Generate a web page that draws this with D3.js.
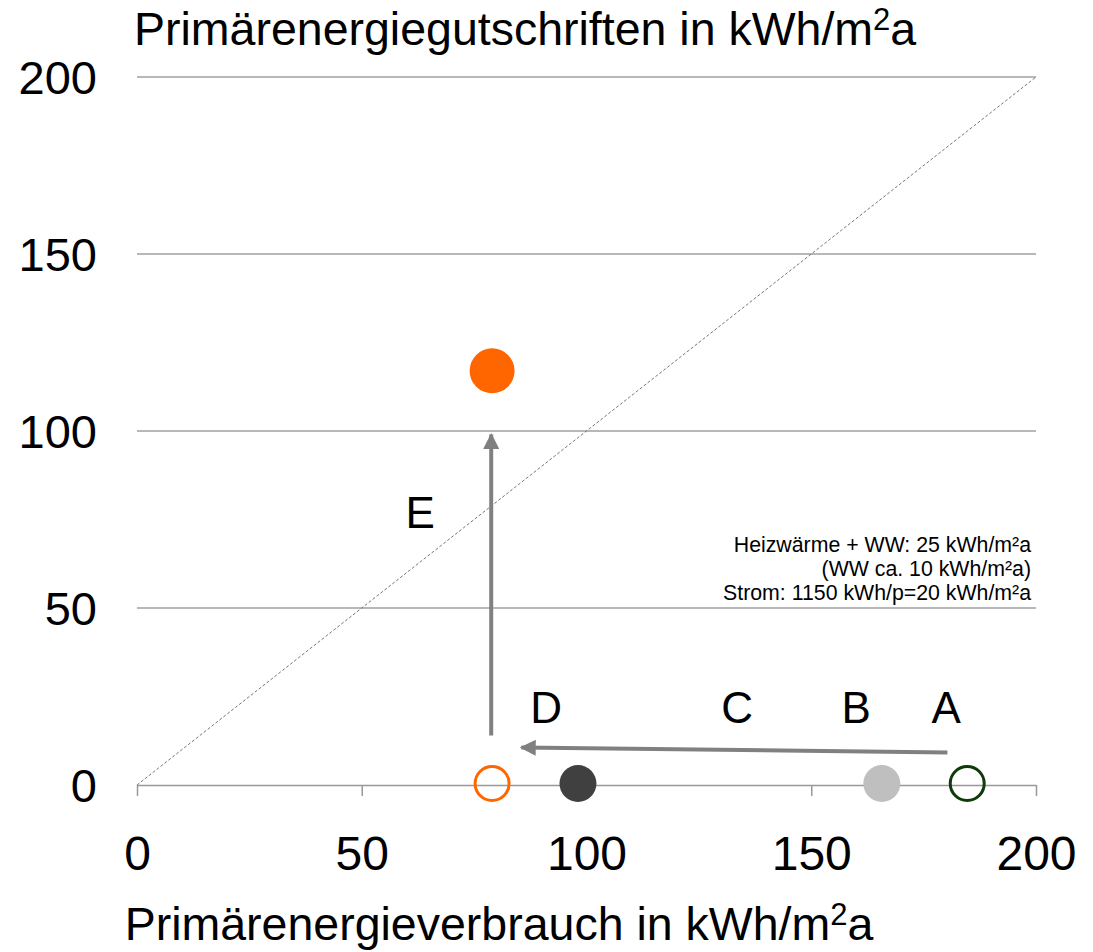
<!DOCTYPE html>
<html><head><meta charset="utf-8">
<script src="https://cdn.jsdelivr.net/npm/d3@7"></script>
<style>body{margin:0;background:#fff}</style>
</head><body>
<svg id="c" width="1093" height="952"></svg>
<script>
const xTicks = [0, 50, 100, 150, 200];
const yTicks = [0, 50, 100, 150, 200];
const gridValues = [50, 100, 150, 200];
const pointNames = ["A", "B", "C/D", "E0", "E"];
const pointX = [184.7, 165.7, 98.1, 79, 79];
const pointY = [0, 0, 0, 0, 117];
const pointFill = ["none", "#bfbfbf", "#404040", "none", "#ff6600"];
const pointStroke = ["#0f3b0a", "none", "none", "#ff6600", "none"];
const labelText = ["A", "B", "C", "D", "E"];
const labelX = [180, 160, 133.5, 91, 63];
const labelY = [22, 22, 22, 22, 77];
const arrows = [
  {x1: 180.3, y1: 9.2, x2: 85.5, y2: 10.6},
  {x1: 78.8, y1: 14, x2: 78.8, y2: 99}
];
const noteLines = ["Heizwärme + WW: 25 kWh/m²a", "(WW ca. 10 kWh/m²a)", "Strom: 1150 kWh/p=20 kWh/m²a"];

const svg = d3.select("#c");
const font = "'Liberation Sans', Arial, sans-serif";
const x = d3.scaleLinear().domain([0, 200]).range([137, 1036]);
const y = d3.scaleLinear().domain([0, 200]).range([785, 77]);

svg.append("defs").append("marker").attr("id", "ah")
  .attr("viewBox", "0 0 10 10").attr("refX", 9).attr("refY", 5)
  .attr("markerWidth", 4.5).attr("markerHeight", 4).attr("orient", "auto")
  .attr("markerUnits", "strokeWidth")
  .append("path").attr("d", "M0,0L10,5L0,10Z").attr("fill", "#808080");

svg.append("g").selectAll("line").data(gridValues).join("line")
  .attr("x1", x(0)).attr("x2", x(200))
  .attr("y1", d => y(d)).attr("y2", d => y(d))
  .attr("stroke", "#a0a0a0").attr("stroke-width", 1.3);

svg.append("line").attr("x1", x(0)).attr("y1", y(0)).attr("x2", x(200)).attr("y2", y(200))
  .attr("stroke", "#777").attr("stroke-width", 1).attr("stroke-dasharray", "3,2");

const xa = svg.append("g").attr("transform", `translate(0,${y(0)})`)
  .call(d3.axisBottom(x).tickValues(xTicks).tickSize(11).tickSizeOuter(0).tickPadding(0));
xa.select(".domain").attr("stroke", "#999").attr("stroke-width", 1.5);
xa.selectAll(".tick line").attr("stroke", "#999").attr("stroke-width", 1.5);
xa.selectAll("text").attr("font-family", font).attr("font-size", 48).attr("fill", "#000")
  .attr("y", 85).attr("dy", null);

const ya = svg.append("g").attr("transform", `translate(${x(0)},0)`)
  .call(d3.axisLeft(y).tickValues(yTicks).tickSize(0).tickPadding(40));
ya.select(".domain").remove();
ya.selectAll("text").attr("font-family", font).attr("font-size", 47).attr("fill", "#000").attr("dy", "0.35em");

svg.append("g").selectAll("line").data(arrows).join("line")
  .attr("x1", d => x(d.x1)).attr("y1", d => y(d.y1))
  .attr("x2", d => x(d.x2)).attr("y2", d => y(d.y2))
  .attr("stroke", "#808080").attr("stroke-width", 4).attr("marker-end", "url(#ah)");

svg.append("g").selectAll("circle").data(pointX.map((v, i) => i)).join("circle")
  .attr("cx", i => x(pointX[i])).attr("cy", i => y(pointY[i]) - (pointY[i] > 0 ? 0 : 1.5))
  .attr("r", i => pointY[i] > 0 ? 22.5 : (pointFill[i] === "none" ? 17 : 18.5))
  .attr("fill", i => pointFill[i])
  .attr("stroke", i => pointStroke[i])
  .attr("stroke-width", 3);

svg.append("g").selectAll("text").data(labelText).join("text")
  .attr("x", (d, i) => x(labelX[i])).attr("y", (d, i) => y(labelY[i]))
  .attr("text-anchor", "middle").attr("dy", "0.35em")
  .attr("font-family", font).attr("font-size", 44).attr("fill", "#000")
  .text(d => d);

svg.append("g").selectAll("text").data(noteLines).join("text")
  .attr("x", 1031).attr("y", (d, i) => 552 + i * 24)
  .attr("text-anchor", "end").attr("font-family", font).attr("font-size", 21.3).attr("fill", "#000")
  .text(d => d);

const t = svg.append("text").attr("x", 134).attr("y", 45).attr("font-family", font).attr("font-size", 46.5).attr("fill", "#000");
t.append("tspan").text("Primärenergiegutschriften in kWh/m");
t.append("tspan").attr("font-size", 31).attr("dy", -15).text("2");
t.append("tspan").attr("dy", 15).text("a");

const xt = svg.append("text").attr("x", 499).attr("y", 940).attr("text-anchor", "middle").attr("font-family", font).attr("font-size", 46.5).attr("fill", "#000");
xt.append("tspan").text("Primärenergieverbrauch in kWh/m");
xt.append("tspan").attr("font-size", 31).attr("dy", -15).text("2");
xt.append("tspan").attr("dy", 15).text("a");
</script>
</body></html>
